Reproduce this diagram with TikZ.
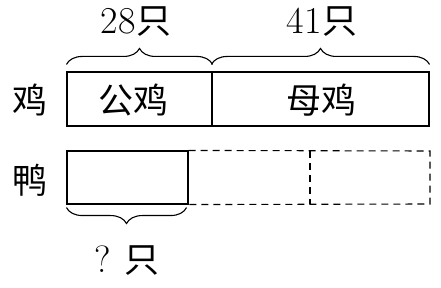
\documentclass[tikz,border=0pt]{standalone}
\usepackage{fontspec}
\newfontfamily\cjk{Noto Sans CJK SC}
\usetikzlibrary{decorations.pathreplacing,calc}
\begin{document}
\begin{tikzpicture}[x=1pt,y=-1pt,
  bar/.style={draw,line width=1.1pt},
  dbar/.style={draw,line width=1.1pt,dash pattern=on 7pt off 5pt},
  brc/.style={decorate,decoration={brace,amplitude=16pt},line width=1.1pt},
  txt/.style={font=\fontsize{35}{37}\selectfont\cjk,inner sep=0pt},
  num/.style={font=\fontsize{36}{38}\selectfont,inner sep=0pt}]
\useasboundingbox (0,0) rectangle (441,288);
% top row: chickens
\node[bar,minimum width=145pt,minimum height=54pt,inner sep=0pt] (gj) at (139.5,99) {};
\node[bar,minimum width=217pt,minimum height=54pt,inner sep=0pt] (mj) at (320.5,99) {};
\node[txt] (tgj) at (133,100) {公鸡};
\node[txt] (tmj) at (321,100) {母鸡};
\node[txt] (ji) at (30,100) {鸡};
\draw[brc] ($(gj.north west)+(0,-7)$) -- ($(gj.north east)+(0,-7)$);
\draw[brc] ($(mj.north west)+(0,-7)$) -- ($(mj.north east)+(0,-7)$);
\node (l28) at (136,22) {\fontsize{38}{40}\selectfont 28\kern1pt{\cjk\fontsize{35}{37}\selectfont 只}};
\node (l41) at (322,22) {\fontsize{38}{40}\selectfont 41\kern1pt{\cjk\fontsize{35}{37}\selectfont 只}};
\node[num] (paren) at (-7,27) {)};
% bottom row: ducks
\node[bar,minimum width=121pt,minimum height=53pt,inner sep=0pt] (ya) at (127.5,177.5) {};
\coordinate (d1) at (310,151);
\coordinate (d2) at (310,204);
\draw[dbar] (ya.north east) -- (430,151) -- (430,204) -- (ya.south east);
\draw[dbar] (d1) -- (d2);
\node[txt] (ya2) at (30,180) {鸭};
\draw[brc] ($(ya.south east)+(-2,3)$) -- ($(ya.south west)+(0,3)$);
\node (q) at (127,261) {\fontsize{38}{40}\selectfont ?\hspace{14pt}{\cjk\fontsize{35}{37}\selectfont 只}};
\end{tikzpicture}
\end{document}
